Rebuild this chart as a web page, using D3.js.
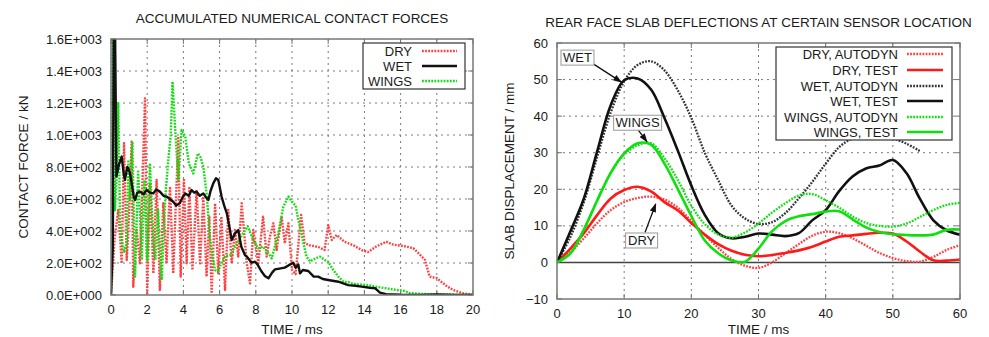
<!DOCTYPE html>
<html>
<head>
<meta charset="utf-8">
<script src="https://cdn.jsdelivr.net/npm/d3@7"></script>
<style>
  body { margin: 0; background: #fff; }
  svg { display: block; font-family: "Liberation Sans", Arial, sans-serif; }
  text { fill: #1a1a1a; }
</style>
</head>
<body>
<svg id="chart" width="989" height="337"></svg>
<script>
// ---- left panel: accumulated numerical contact forces, [time ms, force kN]
var dryForce = [[0,0],[0.2,350],[0.4,531],[0.5,365],[0.59,198],[0.72,948],[0.87,219],[1.0,500],[1.14,958],[1.23,52],[1.42,406],[1.6,198],[1.88,1229],[2.0,10],[2.16,698],[2.34,135],[2.52,719],[2.7,31],[2.89,573],[3.07,198],[3.26,677],[3.44,135],[3.72,990],[3.85,115],[4.03,719],[4.18,198],[4.33,677],[4.5,156],[4.73,656],[4.92,198],[5.1,615],[5.28,115],[5.43,490],[5.56,10],[5.75,573],[5.93,135],[6.1,490],[6.3,31],[6.48,531],[6.67,198],[6.85,406],[7.03,240],[7.22,573],[7.5,198],[7.68,73],[7.86,406],[8.14,198],[8.4,490],[8.6,240],[8.78,365],[8.97,448],[9.15,281],[9.43,490],[9.6,323],[9.8,448],[10.0,156],[10.2,130],[10.5,500],[10.7,324],[11.0,310],[11.45,300],[11.8,281],[12.0,437],[12.2,344],[12.47,375],[12.9,333],[13.4,310],[13.85,281],[14.2,268],[14.6,300],[15.2,333],[15.6,315],[16.2,305],[16.7,293],[17.0,260],[17.35,219],[17.6,115],[18.0,105],[18.5,60],[18.9,31],[19.4,12],[19.8,5],[20,3]];
var wetForce = [[0,0],[0.1,300],[0.15,1700],[0.22,1700],[0.3,740],[0.45,820],[0.59,865],[0.7,760],[0.77,720],[0.9,800],[0.96,790],[1.05,760],[1.14,700],[1.25,620],[1.33,594],[1.45,640],[1.6,646],[1.8,630],[1.97,656],[2.15,640],[2.34,635],[2.5,660],[2.7,646],[2.9,620],[3.08,615],[3.25,600],[3.44,583],[3.6,560],[3.8,573],[3.95,610],[4.1,635],[4.3,620],[4.45,656],[4.6,640],[4.73,646],[4.9,620],[5.1,635],[5.25,610],[5.38,594],[5.5,650],[5.65,698],[5.8,730],[5.93,719],[6.11,615],[6.25,560],[6.4,510],[6.55,420],[6.67,344],[6.85,385],[7.03,406],[7.2,302],[7.4,250],[7.5,240],[7.77,202],[7.96,208],[8.1,190],[8.3,150],[8.5,119],[8.7,104],[8.9,140],[9.06,160],[9.3,165],[9.6,171],[9.8,185],[10.07,202],[10.2,170],[10.35,190],[10.44,135],[10.6,156],[10.9,150],[11.2,115],[11.45,115],[11.7,100],[12.0,94],[12.56,83],[13.1,62],[13.5,58],[13.85,52],[14.3,45],[14.6,42],[14.86,15],[15.2,5],[16,2],[17,1],[18,3],[19,0],[20,0]];
var wingsForce = [[0,0],[0.05,600],[0.09,1700],[0.16,1700],[0.22,530],[0.3,700],[0.4,1198],[0.5,460],[0.6,340],[0.72,270],[0.87,320],[0.96,844],[1.05,600],[1.18,958],[1.33,115],[1.5,781],[1.7,219],[1.85,719],[2.0,219],[2.15,823],[2.35,323],[2.45,219],[2.6,531],[2.8,94],[3.0,615],[3.15,823],[3.3,1000],[3.4,1333],[3.55,1031],[3.72,719],[3.9,1031],[4.1,990],[4.3,823],[4.55,760],[4.8,885],[4.95,860],[5.1,802],[5.3,615],[5.45,365],[5.6,250],[5.75,156],[5.9,146],[6.1,198],[6.3,240],[6.6,250],[6.95,323],[7.3,385],[7.55,430],[7.86,344],[8.14,292],[8.4,302],[8.7,260],[8.88,229],[9.0,280],[9.24,385],[9.52,552],[9.8,615],[10.07,573],[10.2,560],[10.35,469],[10.5,400],[10.63,323],[10.8,240],[11.0,210],[11.3,229],[11.55,240],[11.8,219],[12.0,208],[12.28,156],[12.56,115],[12.84,83],[13.1,80],[13.4,70],[13.85,65],[14.3,60],[14.6,52],[15.2,42],[15.8,31],[16.15,27],[16.5,12],[17,8],[17.8,4],[18.5,3],[20,2]];
var forceXTicks = [0,2,4,6,8,10,12,14,16,18,20];
var forceYTicks = [0,200,400,600,800,1000,1200,1400,1600];

// ---- right panel: slab deflections, sampled every 2 ms
var defTime = [0,2,4,6,8,10,12,14,16,18,20,22,24,26,28,30,32,34,36,38,40,42,44,46,48,50,52,54,56,58,60];
var dryAutodyn = [0,2.8,6.6,10.8,14.3,16.5,17.6,18,17.2,15,11.3,7.5,4,0.9,-0.9,-1.5,0,2.5,5,7.3,8.4,8,6.6,4.6,2.6,1.2,0.4,0.2,1.5,3.4,4.7];
var dryTest = [0,3.8,8,13,17.5,19.8,20.7,19.4,16.5,14.2,10.8,7.6,5,3.2,2.1,1.7,2,2.6,3.3,4.3,5.7,7,7.4,7.8,8.1,7.9,5.8,3,0.6,0.5,0.8];
var wetAutodyn = [0,7,16.5,29,41,49.5,54,55,52.5,47,39.5,30,22.5,15.5,12,10.5,11,13.5,17.5,22,27,31.5,34,35.5,35.5,34,32.5,30.5,null,null,null];
var wetTest = [0,8.5,17.5,30.5,43,49.8,50.3,47.3,39.5,30.5,21,13,8,6.6,7,7.9,7.6,7.2,8,11.5,14.3,19.5,23.5,25.7,26.5,28,24.5,17.5,11.6,8.8,7.6];
var wingsAutodyn = [0,2.5,9,17,24.5,29.5,32,32.6,28.5,22.5,15.5,10.5,7.6,6.8,8.2,10.6,13.6,16.2,18.3,18.7,17,15,12.6,10.8,10,9.8,10.6,12.4,14.3,15.7,16.3];
var wingsTest = [0,2.5,9,17,24.5,29.8,32.6,32.2,27,20,12.7,6,2.5,0.5,0.2,3.8,8.5,11.3,12.6,13.2,13.9,14,11.8,9.6,8.3,7.7,7.5,7.4,7.6,8.9,9];
var defXTicks = [0,10,20,30,40,50,60];
var defYTicks = [-10,0,10,20,30,40,50,60];

var RED = "#ff1a1a", REDDOT = "#ff4040", GREEN = "#0ee00e", BLACK = "#111";
var DOT = "1.8,1.3";

var svg = d3.select("#chart");

function expFmt(v) {
  var s = v.toExponential(1).split("e");
  var e = +s[1];
  return s[0] + "E" + (e < 0 ? "-" : "+") + d3.format("03d")(Math.abs(e));
}

function panel(opt) {
  var x = d3.scaleLinear().domain(opt.xDomain).range([opt.left, opt.right]);
  var y = d3.scaleLinear().domain(opt.yDomain).range([opt.bottom, opt.top]);
  var g = svg.append("g");

  g.append("clipPath").attr("id", opt.id + "-clip")
    .append("rect").attr("x", opt.left).attr("y", opt.top)
    .attr("width", opt.right - opt.left).attr("height", opt.bottom - opt.top);

  // grid
  g.selectAll(".gx").data(opt.xTicks.slice(1, -1)).enter().append("line")
    .attr("x1", d => x(d)).attr("x2", d => x(d))
    .attr("y1", opt.top).attr("y2", opt.bottom)
    .attr("stroke", "#7a7a7a").attr("stroke-width", 1).attr("stroke-dasharray", "2,4");
  g.selectAll(".gy").data(opt.yTicks.slice(1, -1)).enter().append("line")
    .attr("y1", d => y(d)).attr("y2", d => y(d))
    .attr("x1", opt.left).attr("x2", opt.right)
    .attr("stroke", "#7a7a7a").attr("stroke-width", 1).attr("stroke-dasharray", "2,4");

  // ticks (inward, mirrored)
  opt.xTicks.forEach(function(t) {
    g.append("line").attr("x1", x(t)).attr("x2", x(t)).attr("y1", opt.bottom).attr("y2", opt.bottom - 5).attr("stroke", "#777");
    g.append("line").attr("x1", x(t)).attr("x2", x(t)).attr("y1", opt.top).attr("y2", opt.top + 5).attr("stroke", "#777");
  });
  opt.yTicks.forEach(function(t) {
    g.append("line").attr("y1", y(t)).attr("y2", y(t)).attr("x1", opt.left).attr("x2", opt.left + 5).attr("stroke", "#777");
    g.append("line").attr("y1", y(t)).attr("y2", y(t)).attr("x1", opt.right).attr("x2", opt.right - 5).attr("stroke", "#777");
  });

  // tick labels
  g.selectAll(".xl").data(opt.xTicks).enter().append("text")
    .attr("x", d => x(d)).attr("y", opt.bottom + 19)
    .attr("text-anchor", "middle").attr("font-size", 13).text(d => d);
  g.selectAll(".yl").data(opt.yTicks).enter().append("text")
    .attr("x", opt.left - 9).attr("y", d => y(d) + 4.5)
    .attr("text-anchor", "end").attr("font-size", 13).text(opt.yFormat);

  // titles
  g.append("text").attr("x", (opt.left + opt.right) / 2).attr("y", opt.top - 16)
    .attr("text-anchor", "middle").attr("font-size", 13.5).text(opt.title);
  g.append("text").attr("x", (opt.left + opt.right) / 2).attr("y", opt.xLabelY)
    .attr("text-anchor", "middle").attr("font-size", 13.5).text("TIME / ms");
  g.append("text")
    .attr("transform", "translate(" + opt.yLabelX + "," + (opt.top + opt.bottom) / 2 + ") rotate(-90)")
    .attr("text-anchor", "middle").attr("dy", "0.35em").attr("font-size", 13.5).text(opt.yLabel);

  var plot = g.append("g").attr("clip-path", "url(#" + opt.id + "-clip)");
  return { x: x, y: y, g: g, plot: plot };
}

function styleLine(sel, s) {
  sel.attr("fill", "none").attr("stroke", s.color).attr("stroke-width", s.width)
    .attr("stroke-linejoin", "round")
    .attr("stroke-dasharray", s.dash || null);
}

function legend(g, items, box, textRight, rowY, sx0, sx1) {
  g.append("rect").attr("x", box[0]).attr("y", box[1]).attr("width", box[2]).attr("height", box[3])
    .attr("fill", "#fff").attr("stroke", "#333").attr("stroke-width", 1.2);
  items.forEach(function(s, i) {
    g.append("text").attr("x", textRight).attr("y", rowY[i] + 4.5)
      .attr("text-anchor", "end").attr("font-size", 13).text(s.name);
    styleLine(g.append("line").attr("x1", sx0).attr("x2", sx1).attr("y1", rowY[i]).attr("y2", rowY[i]), s);
  });
}

// ===== left panel
var P1 = panel({
  id: "p1", left: 111, right: 473, top: 39, bottom: 295,
  xDomain: [0, 20], yDomain: [0, 1600],
  xTicks: forceXTicks, yTicks: forceYTicks, yFormat: expFmt,
  title: "ACCUMULATED NUMERICAL CONTACT FORCES",
  yLabel: "CONTACT FORCE / kN", yLabelX: 23, xLabelY: 334
});
var forceSeries = [
  { name: "DRY", data: dryForce, color: REDDOT, width: 2.4, dash: DOT },
  { name: "WET", data: wetForce, color: BLACK, width: 2.4 },
  { name: "WINGS", data: wingsForce, color: GREEN, width: 2.4, dash: DOT }
];
var line1 = d3.line().x(d => P1.x(d[0])).y(d => P1.y(d[1]));
[forceSeries[0], forceSeries[2], forceSeries[1]].forEach(function(s) {
  styleLine(P1.plot.append("path").attr("d", line1(s.data)), s);
});
legend(P1.g, forceSeries, [363, 43, 102, 46], 412, [51, 66, 81], 422, 457);
P1.g.append("rect").attr("x", 111).attr("y", 39).attr("width", 362).attr("height", 256)
  .attr("fill", "none").attr("stroke", "#777").attr("stroke-width", 1.5);

// ===== right panel
var P2 = panel({
  id: "p2", left: 557, right: 960, top: 43, bottom: 299,
  xDomain: [0, 60], yDomain: [-10, 60],
  xTicks: defXTicks, yTicks: defYTicks, yFormat: d => d < 0 ? "\u2212" + Math.abs(d) : d,
  title: "REAR FACE SLAB DEFLECTIONS AT CERTAIN SENSOR LOCATION",
  yLabel: "SLAB DISPLACEMENT / mm", yLabelX: 509, xLabelY: 334
});
P2.plot.append("line").attr("x1", P2.x(0)).attr("x2", P2.x(60)).attr("y1", P2.y(0)).attr("y2", P2.y(0))
  .attr("stroke", "#444").attr("stroke-width", 1.5);

var defSeries = [
  { name: "DRY, AUTODYN", data: dryAutodyn, color: REDDOT, width: 2.3, dash: DOT },
  { name: "DRY, TEST", data: dryTest, color: RED, width: 2.6 },
  { name: "WET, AUTODYN", data: wetAutodyn, color: "#333", width: 2.3, dash: DOT },
  { name: "WET, TEST", data: wetTest, color: BLACK, width: 2.6 },
  { name: "WINGS, AUTODYN", data: wingsAutodyn, color: GREEN, width: 2.3, dash: DOT },
  { name: "WINGS, TEST", data: wingsTest, color: GREEN, width: 2.6 }
];
var line2 = d3.line()
  .defined(d => d[1] != null)
  .x(d => P2.x(d[0])).y(d => P2.y(d[1]))
  .curve(d3.curveCatmullRom.alpha(0.5));
defSeries.forEach(function(s) {
  var pts = defTime.map((t, i) => [t, s.data[i]]);
  styleLine(P2.plot.append("path").attr("d", line2(pts)), s);
});

// annotations (label, label position, arrow start, arrow tip) in data units
var notes = [
  { text: "WET", at: [3.05, 56], from: [5.4, 54.3], to: [9.6, 49.3], w: 33 },
  { text: "WINGS", at: [12.0, 38.2], from: [12.1, 36.2], to: [13.4, 33.0], w: 48 },
  { text: "DRY", at: [12.6, 6.0], from: [13.1, 8.2], to: [14.7, 16.0], w: 32 }
];
svg.append("defs").append("marker").attr("id", "arr")
  .attr("viewBox", "0 0 10 10").attr("refX", 9).attr("refY", 5)
  .attr("markerWidth", 7).attr("markerHeight", 7).attr("orient", "auto")
  .append("path").attr("d", "M0,1.5L10,5L0,8.5z").attr("fill", "#111");
notes.forEach(function(n) {
  P2.g.append("line")
    .attr("x1", P2.x(n.from[0])).attr("y1", P2.y(n.from[1]))
    .attr("x2", P2.x(n.to[0])).attr("y2", P2.y(n.to[1]))
    .attr("stroke", "#111").attr("stroke-width", 1.3).attr("marker-end", "url(#arr)");
  var cx = P2.x(n.at[0]), cy = P2.y(n.at[1]);
  P2.g.append("rect").attr("x", cx - n.w / 2).attr("y", cy - 7.5).attr("width", n.w).attr("height", 15)
    .attr("fill", "#fff").attr("stroke", "#999").attr("stroke-width", 1);
  P2.g.append("text").attr("x", cx).attr("y", cy + 4.7).attr("text-anchor", "middle")
    .attr("font-size", 13).text(n.text);
});

legend(P2.g, defSeries, [776, 47, 176, 93], 898, [54, 70, 86, 101, 117, 132], 907, 943);
P2.g.append("rect").attr("x", 557).attr("y", 43).attr("width", 403).attr("height", 256)
  .attr("fill", "none").attr("stroke", "#777").attr("stroke-width", 1.5);
</script>
</body>
</html>
